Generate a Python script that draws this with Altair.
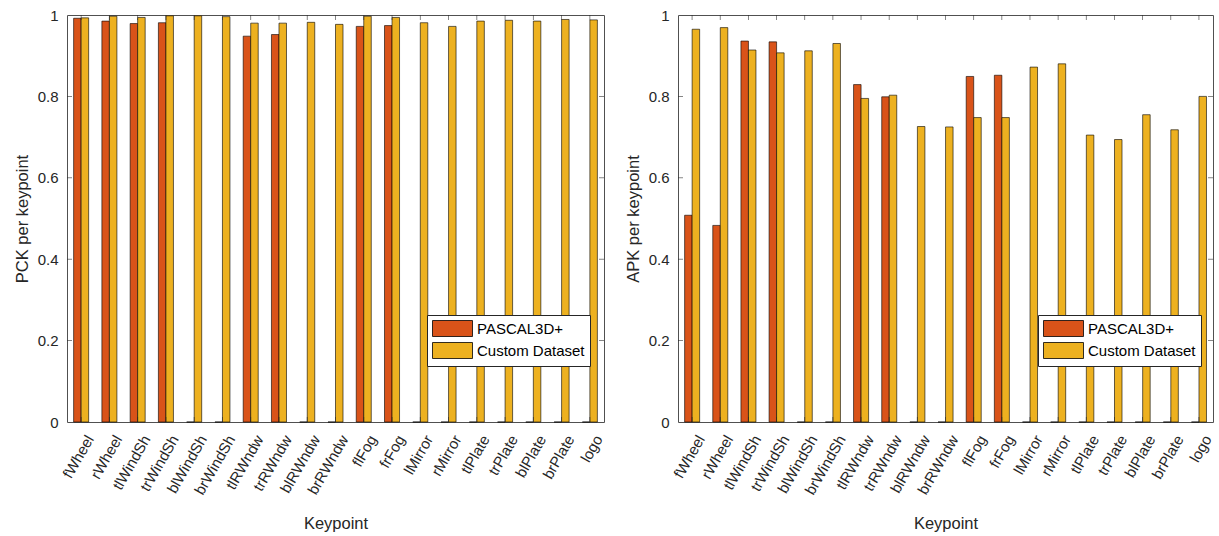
import altair as alt
import pandas as pd

keypoints = ["fWheel", "rWheel", "tlWindSh", "trWindSh", "blWindSh", "brWindSh",
             "tlRWndw", "trRWndw", "blRWndw", "brRWndw", "flFog", "frFog",
             "lMirror", "rMirror", "tlPlate", "trPlate", "blPlate", "brPlate", "logo"]
series_names = ["PASCAL3D+", "Custom Dataset"]
series_colors = ["#D95319", "#EDB120"]

pck_pascal = [0.992, 0.985, 0.979, 0.981, 0, 0, 0.948, 0.952, 0, 0, 0.972, 0.974,
              0, 0, 0, 0, 0, 0, 0]
pck_custom = [0.993, 0.997, 0.994, 0.998, 0.998, 0.996, 0.980, 0.980, 0.982, 0.977,
              0.997, 0.994, 0.981, 0.972, 0.985, 0.987, 0.985, 0.989, 0.988]
apk_pascal = [0.508, 0.483, 0.936, 0.934, 0, 0, 0.829, 0.799, 0, 0, 0.849, 0.852,
              0, 0, 0, 0, 0, 0, 0]
apk_custom = [0.965, 0.969, 0.914, 0.907, 0.912, 0.930, 0.795, 0.803, 0.726, 0.725,
              0.748, 0.748, 0.872, 0.880, 0.705, 0.694, 0.755, 0.718, 0.800]

y_ticks = [0, 0.2, 0.4, 0.6, 0.8, 1]
inner_ticks = [0.2, 0.4, 0.6, 0.8]

FONT = "Liberation Sans"
AX = "#262626"


def panel(pascal, custom, ytitle, width, height):
    rows = []
    for k, p, c in zip(keypoints, pascal, custom):
        rows.append({"keypoint": k, "series": series_names[0], "value": p})
        rows.append({"keypoint": k, "series": series_names[1], "value": c})
    df = pd.DataFrame(rows)

    xscale = alt.Scale(paddingInner=0, paddingOuter=0)
    yscale = alt.Scale(domain=[0, 1], nice=False, zero=True)

    bars = alt.Chart(df).mark_bar(stroke="black", strokeWidth=0.6).encode(
        x=alt.X("keypoint:N", sort=keypoints, scale=xscale,
                axis=alt.Axis(title="Keypoint", labelAngle=-60, labelAlign="right",
                              labelBaseline="middle", tickSize=0, domain=False,
                              labelPadding=14, labelOffset=9, titlePadding=18)),
        xOffset=alt.XOffset("series:N", sort=series_names,
                            scale=alt.Scale(paddingInner=0, paddingOuter=0.88)),
        y=alt.Y("value:Q", scale=yscale,
                axis=alt.Axis(title=ytitle, values=y_ticks, format="~g", tickSize=0,
                              domain=False, grid=False, labelPadding=9, titlePadding=7)),
        color=alt.Color("series:N", sort=series_names,
                        scale=alt.Scale(domain=series_names, range=series_colors),
                        legend=alt.Legend(title=None, orient="none", legendX=360, legendY=300)),
    )

    tdf = pd.DataFrame({"value": inner_ticks})
    yl = alt.Chart(tdf).mark_tick(orient="horizontal", size=5, thickness=0.8, color=AX).encode(
        y=alt.Y("value:Q", scale=yscale), x=alt.value(2.5))
    yr = alt.Chart(tdf).mark_tick(orient="horizontal", size=5, thickness=0.8, color=AX).encode(
        y=alt.Y("value:Q", scale=yscale), x=alt.value(width - 2.5))

    kdf = pd.DataFrame({"keypoint": keypoints})
    xt = alt.Chart(kdf).mark_tick(orient="vertical", size=5, thickness=0.8, color=AX).encode(
        x=alt.X("keypoint:N", sort=keypoints, scale=xscale), y=alt.value(2.5))
    xb = alt.Chart(kdf).mark_tick(orient="vertical", size=5, thickness=0.8, color=AX).encode(
        x=alt.X("keypoint:N", sort=keypoints, scale=xscale), y=alt.value(height - 2.5))

    return alt.layer(bars, yl, yr, xt, xb).properties(width=width, height=height)


left = panel(pck_pascal, pck_custom, "PCK per keypoint", 537, 407)
right = panel(apk_pascal, apk_custom, "APK per keypoint", 535, 407)

chart = alt.hconcat(left, right, spacing=18).resolve_legend(color="independent").properties(
    padding={"left": 13, "top": 7, "right": 0, "bottom": 0}
).configure_view(
    stroke="#505050", strokeWidth=1
).configure_axis(
    labelFont=FONT, labelFontSize=15, labelColor=AX,
    titleFont=FONT, titleFontSize=16.5, titleFontWeight="normal", titleColor=AX,
).configure_legend(
    labelFont=FONT, labelFontSize=15, labelColor="black",
    symbolType="M-2.5,-1H2.5V1H-2.5Z", symbolSize=256,
    symbolStrokeColor="black", symbolStrokeWidth=0.8, symbolOpacity=1,
    symbolOffset=12, labelOffset=16, rowPadding=1,
    strokeColor=AX, fillColor="white", padding=5,
    cornerRadius=0,
)

chart.save("out.html", embed_options={"renderer": "svg", "actions": False})
